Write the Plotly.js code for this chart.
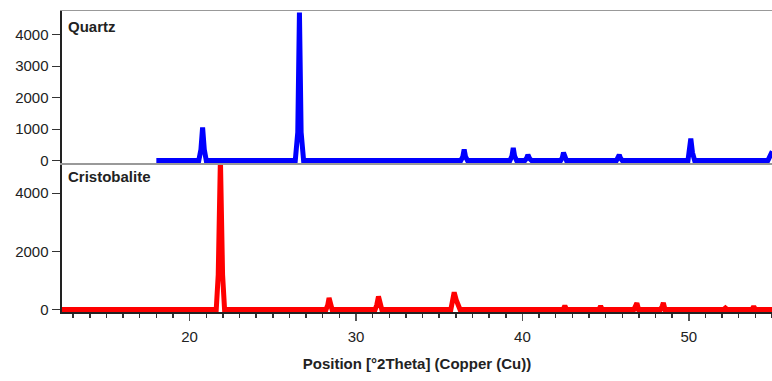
<!DOCTYPE html>
<html>
<head>
<meta charset="utf-8">
<script src="https://cdn.plot.ly/plotly-3.0.1.min.js"></script>
<style>html,body{margin:0;padding:0;background:#fff;}#chart{width:772px;height:381px;}</style>
</head>
<body>
<div id="chart"></div>
<script>
// Digitized Quartz pattern (2Theta, counts)
const quartzX = [18.0, 20.55, 20.68, 20.78, 20.88, 21.0, 26.35, 26.5, 26.6, 26.7, 26.85,
  36.3, 36.42, 36.5, 36.58, 36.7, 39.25, 39.37, 39.45, 39.53, 39.65, 40.15, 40.25, 40.33, 40.43, 40.55,
  42.3, 42.4, 42.47, 42.55, 42.65, 45.65, 45.75, 45.82, 45.9, 46.0, 49.95, 50.05, 50.12, 50.22, 50.35,
  54.75, 54.85, 54.95, 55.2];
const quartzY = [0, 0, 350, 1050, 350, 0, 0, 900, 4700, 900, 0,
  0, 120, 350, 120, 0, 0, 140, 400, 140, 0, 0, 70, 180, 60, 0,
  0, 90, 250, 90, 0, 0, 70, 180, 70, 0, 0, 300, 700, 250, 0,
  0, 80, 220, 150];

// Digitized Cristobalite pattern (2Theta, counts)
const cristX = [12.3, 21.6, 21.72, 21.85, 21.98, 22.1, 28.2, 28.3, 28.38, 28.46, 28.56,
  31.15, 31.25, 31.35, 31.45, 31.55, 35.7, 35.8, 35.9, 36.02, 36.12, 36.25,
  42.45, 42.55, 42.65, 44.6, 44.7, 44.8, 46.7, 46.8, 46.88, 46.98, 48.3, 48.4, 48.47, 48.57,
  52.1, 52.2, 52.3, 53.8, 53.9, 54.0, 55.2];
const cristY = [0, 0, 1200, 5200, 1200, 0, 0, 150, 400, 150, 0,
  0, 160, 450, 170, 0, 0, 220, 590, 330, 180, 0,
  0, 130, 0, 0, 120, 0, 0, 100, 220, 0, 0, 110, 230, 0,
  0, 50, 0, 0, 110, 0, 0];

const yTicksTop = [0, 1000, 2000, 3000, 4000];
const yTicksBottom = [0, 2000, 4000];
const xTicks = [20, 30, 40, 50];

const font = {family: 'Liberation Sans, Arial, sans-serif', size: 15, color: '#222'};

const traces = [
  {x: cristX, y: cristY, xaxis: 'x', yaxis: 'y', type: 'scatter', mode: 'lines',
   line: {color: '#ff0000', width: 5}, hoverinfo: 'skip'},
  {x: quartzX, y: quartzY, xaxis: 'x2', yaxis: 'y2', type: 'scatter', mode: 'lines',
   line: {color: '#0000ff', width: 5}, hoverinfo: 'skip'}
];

const layout = {
  width: 772, height: 381,
  margin: {l: 62, r: 0, t: 11, b: 69},
  paper_bgcolor: '#fff', plot_bgcolor: '#fff',
  showlegend: false,
  font: font,
  xaxis: {
    domain: [0, 1], anchor: 'y', range: [12.33, 55.0],
    tickvals: xTicks, ticks: 'outside', ticklen: 7, tickwidth: 1.5, tickcolor: '#555',
    minor: {dtick: 1, tick0: 0, ticks: 'outside', ticklen: 4, tickcolor: '#333', showgrid: false},
    showline: true, linecolor: '#222', linewidth: 2, showgrid: false, zeroline: false,
    tickfont: font, ticklabelstandoff: 3,
    title: {text: '<b>Position [°2Theta] (Copper (Cu))</b>', font: {family: 'Liberation Sans, Arial, sans-serif', size: 15, color: '#222'}, standoff: 14}
  },
  xaxis2: {
    domain: [0, 1], anchor: 'y2', matches: 'x', range: [12.33, 55.0],
    showticklabels: false, ticks: '', showline: true, mirror: true,
    linecolor: '#999', linewidth: 1.5, showgrid: false, zeroline: false
  },
  yaxis: {
    domain: [0, 0.495], anchor: 'x', range: [-86, 5034],
    tickvals: yTicksBottom, ticks: 'outside', ticklen: 8, tickcolor: '#333',
    showline: true, linecolor: '#222', linewidth: 2.5, showgrid: false, zeroline: false,
    tickfont: font
  },
  yaxis2: {
    domain: [0.495, 1], anchor: 'x2', range: [-79, 4746],
    tickvals: yTicksTop, ticks: 'outside', ticklen: 8, tickcolor: '#333',
    showline: true, linecolor: '#222', linewidth: 2.5, showgrid: false, zeroline: false,
    tickfont: font
  },
  annotations: [
    {text: '<b>Quartz</b>', xref: 'paper', yref: 'paper', x: 0.006, y: 0.95, xanchor: 'left', yanchor: 'middle',
     showarrow: false, font: {family: 'Liberation Sans, Arial, sans-serif', size: 15, color: '#222'}},
    {text: '<b>Cristobalite</b>', xref: 'paper', yref: 'paper', x: 0.006, y: 0.45, xanchor: 'left', yanchor: 'middle',
     showarrow: false, font: {family: 'Liberation Sans, Arial, sans-serif', size: 15, color: '#222'}}
  ]
};

Plotly.newPlot('chart', traces, layout, {staticPlot: true, displayModeBar: false});
</script>
</body>
</html>
